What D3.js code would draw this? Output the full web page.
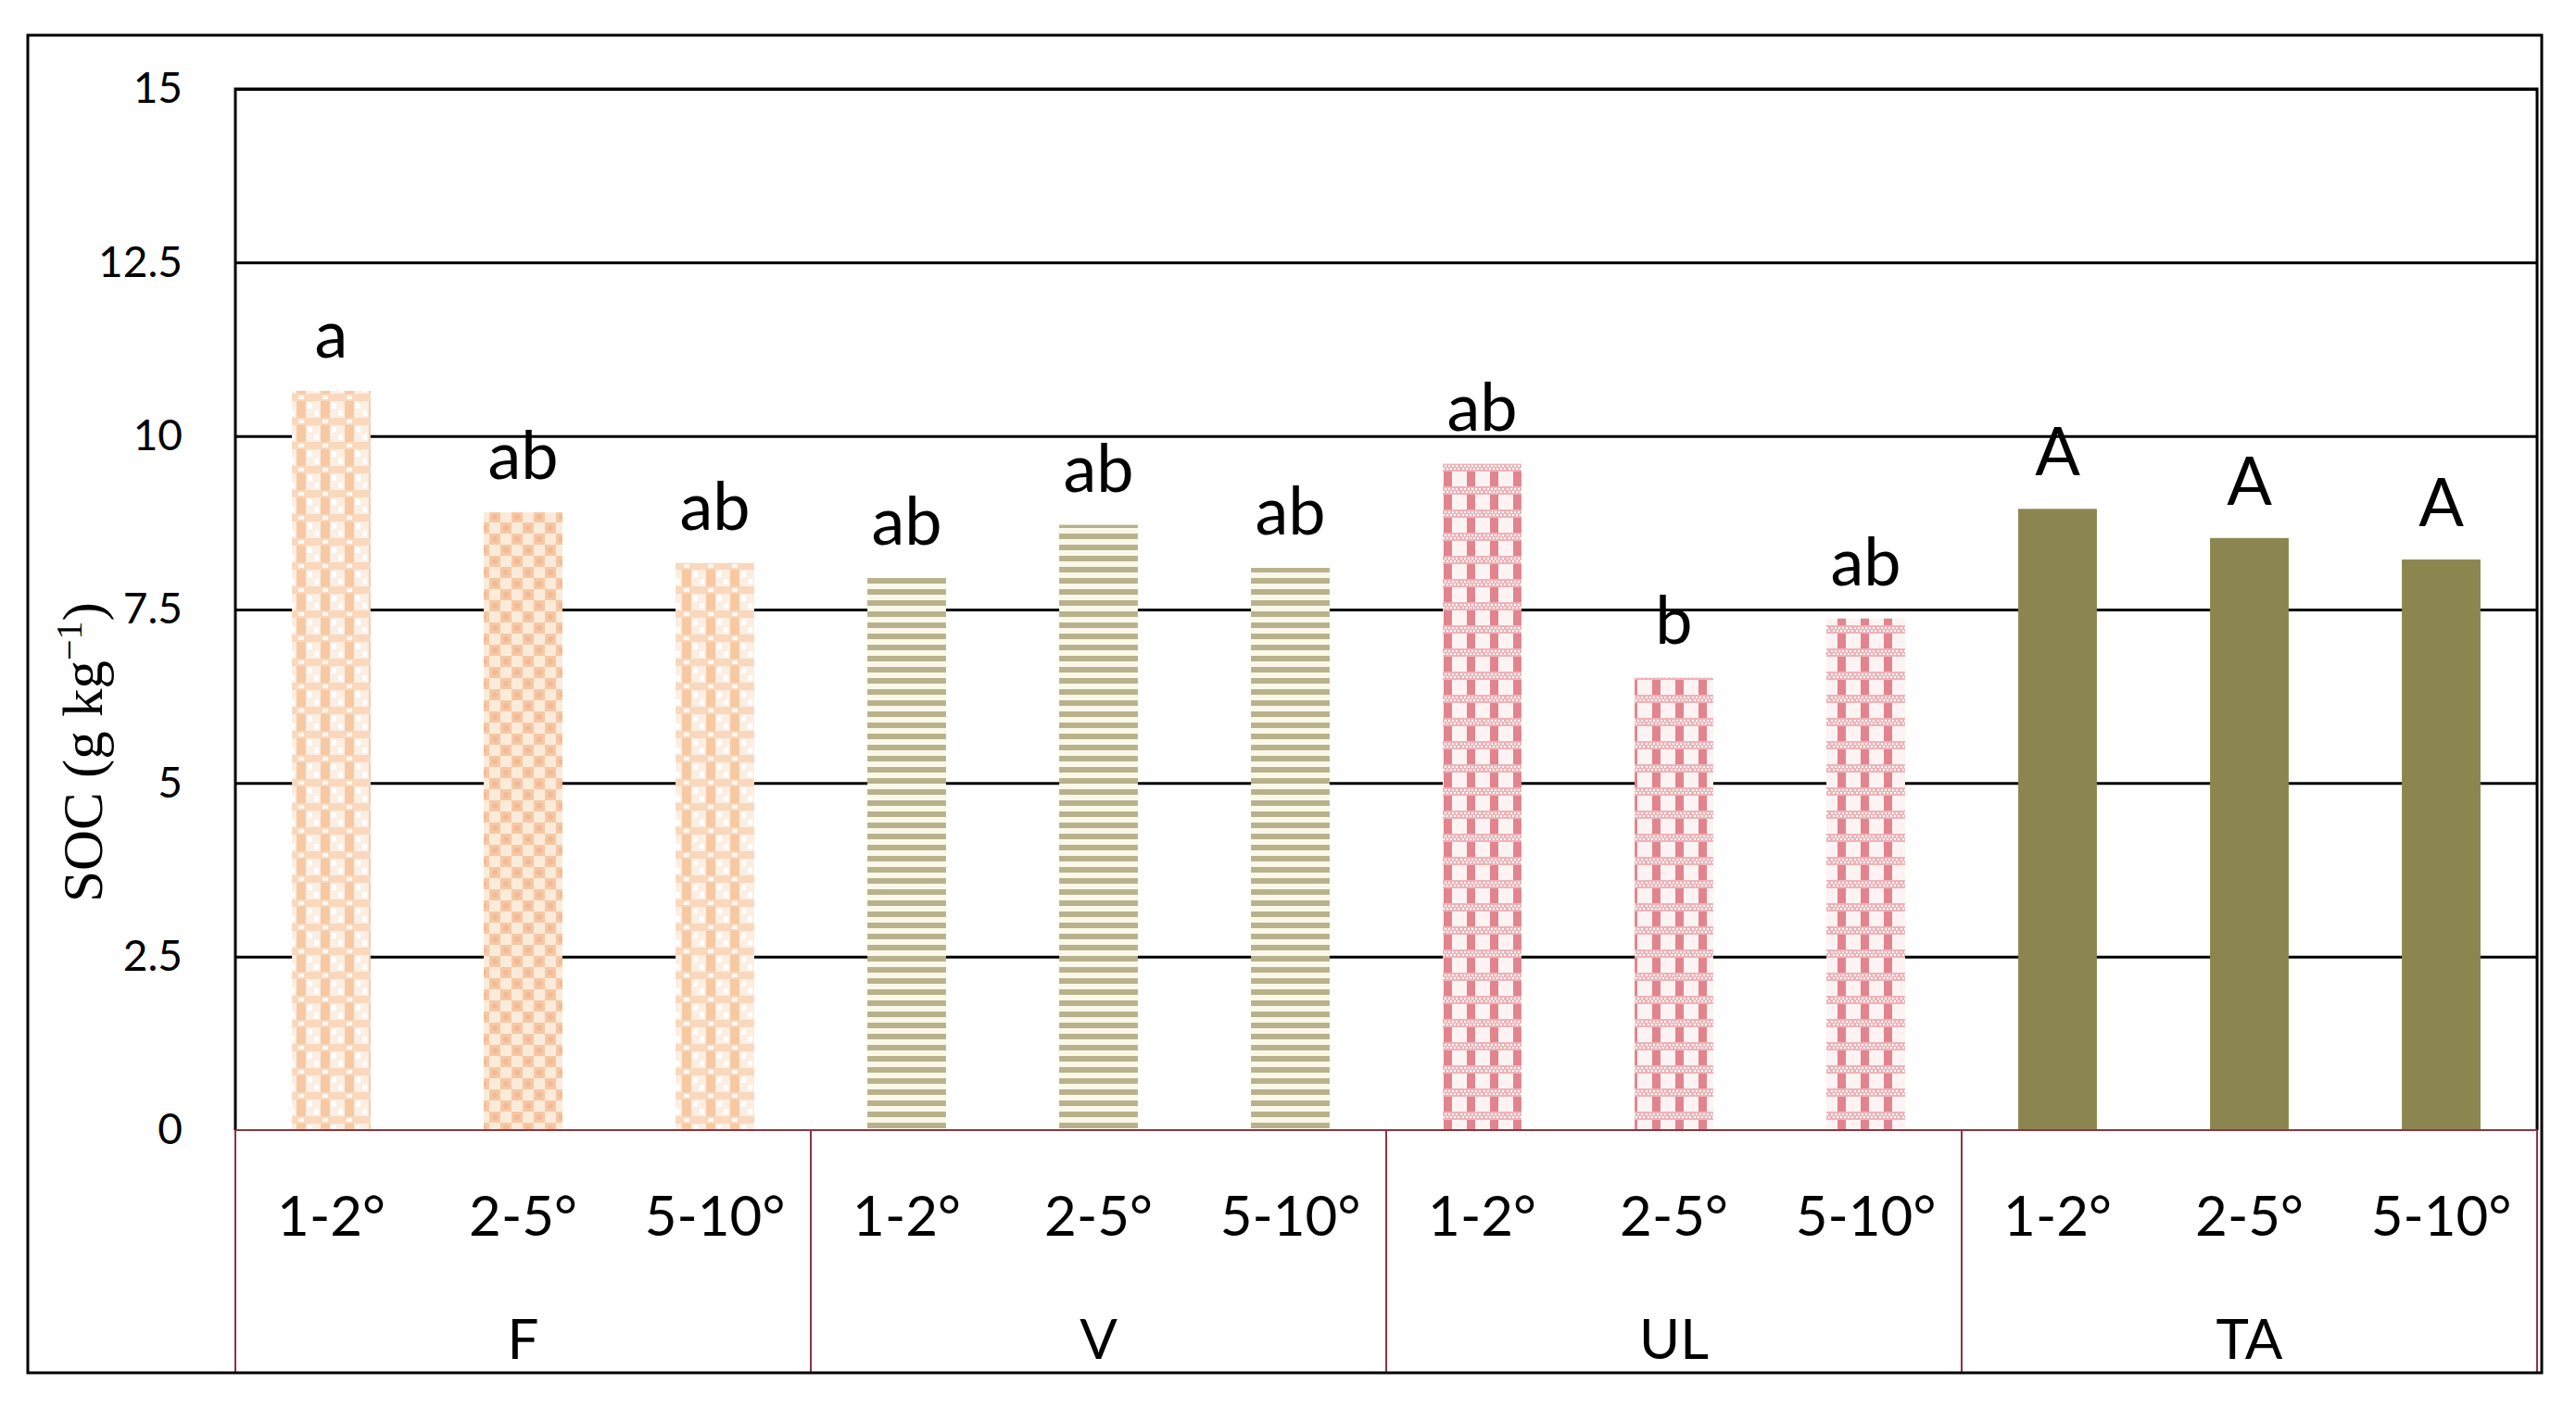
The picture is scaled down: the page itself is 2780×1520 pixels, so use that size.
<!DOCTYPE html>
<html>
<head>
<meta charset="utf-8">
<script src="https://cdn.jsdelivr.net/npm/d3@7"></script>
<style>
  html, body { margin: 0; padding: 0; background: #fff; }
  svg { display: block; }
</style>
</head>
<body>
<svg id="chart" width="2780" height="1520"></svg>
<script>
// ---- data ----
const groups = ["F", "V", "UL", "TA"];
const slopes = ["1-2°", "2-5°", "5-10°"];
const socF  = [10.65, 8.90, 8.17];
const socV  = [7.96, 8.72, 8.10];
const socUL = [9.60, 6.52, 7.37];
const socTA = [8.95, 8.53, 8.22];
const lettersF  = ["a", "ab", "ab"];
const lettersV  = ["ab", "ab", "ab"];
const lettersUL = ["ab", "b", "ab"];
const lettersTA = ["A", "A", "A"];
const yTicks = [0, 2.5, 5, 7.5, 10, 12.5, 15];

const seriesValues = [socF, socV, socUL, socTA];
const seriesLetters = [lettersF, lettersV, lettersUL, lettersTA];
const rows = [];
groups.forEach((g, gi) => slopes.forEach((s, si) => rows.push({
  group: g, slope: s, key: g + "|" + s,
  value: seriesValues[gi][si], letter: seriesLetters[gi][si], gi, si
})));

// ---- layout ----
const svg = d3.select("#chart");
const outer = {x0: 30, y0: 38, x1: 2743, y1: 1482};
const plot = {x0: 254, y0: 96, x1: 2738, y1: 1220};

const x = d3.scaleBand().domain(rows.map(d => d.key)).range([plot.x0, plot.x1]).paddingInner(0.59).paddingOuter(0.295);
const xg = d3.scaleBand().domain(groups).range([plot.x0, plot.x1]);
const y = d3.scaleLinear().domain([0, 15]).range([plot.y1, plot.y0]);

// ---- patterns ----
const defs = svg.append("defs");
// F pattern A: peach diamond columns
(function(){
  const p = defs.append("pattern").attr("id", "pF1").attr("patternUnits", "userSpaceOnUse")
    .attr("width", 26).attr("height", 26);
  p.append("rect").attr("width", 26).attr("height", 26).attr("fill", "#fdeee2");
  p.append("rect").attr("x", 8).attr("y", 0).attr("width", 10).attr("height", 26).attr("fill", "#f7c9a3");
  p.append("rect").attr("x", 0).attr("y", 9).attr("width", 26).attr("height", 8).attr("fill", "#f9d8bd");
  p.append("rect").attr("x", 10).attr("y", 11).attr("width", 6).attr("height", 4).attr("fill", "#fff8f0");
  p.append("rect").attr("x", 1).attr("y", 1).attr("width", 5).attr("height", 6).attr("fill", "#ffffff");
  p.append("rect").attr("x", 20).attr("y", 19).attr("width", 5).attr("height", 6).attr("fill", "#ffffff");
})();
// F pattern B: fine peach checker
(function(){
  const p = defs.append("pattern").attr("id", "pF2").attr("patternUnits", "userSpaceOnUse")
    .attr("width", 24).attr("height", 24);
  p.append("rect").attr("width", 24).attr("height", 24).attr("fill", "#fdebd9");
  p.append("rect").attr("x", 0).attr("y", 0).attr("width", 12).attr("height", 12).attr("fill", "#f6c8a5");
  p.append("rect").attr("x", 12).attr("y", 12).attr("width", 12).attr("height", 12).attr("fill", "#f6c8a5");
  p.append("circle").attr("cx", 6).attr("cy", 6).attr("r", 3).attr("fill", "#f2b994");
  p.append("circle").attr("cx", 18).attr("cy", 18).attr("r", 3).attr("fill", "#f2b994");
})();
// V pattern: horizontal stripes
(function(){
  const p = defs.append("pattern").attr("id", "pV").attr("patternUnits", "userSpaceOnUse")
    .attr("width", 12).attr("height", 12);
  p.append("rect").attr("width", 12).attr("height", 12).attr("fill", "#fbf8ea");
  p.append("rect").attr("x", 0).attr("y", 0).attr("width", 12).attr("height", 6).attr("fill", "#b8b28c");
})();
// UL pattern: pink plaid
(function(){
  const p = defs.append("pattern").attr("id", "pUL").attr("patternUnits", "userSpaceOnUse")
    .attr("width", 25).attr("height", 25);
  p.append("rect").attr("width", 25).attr("height", 25).attr("fill", "#fdf3f3");
  p.append("rect").attr("x", 8).attr("y", 0).attr("width", 9).attr("height", 25).attr("fill", "#e2848e");
  p.append("rect").attr("x", 0).attr("y", 0).attr("width", 25).attr("height", 9).attr("fill", "#eeb3b8");
  for (let i = 0; i < 6; i++) {
    p.append("rect").attr("x", i * 4 + 1).attr("y", 2).attr("width", 2).attr("height", 2).attr("fill", "#fff");
    p.append("rect").attr("x", i * 4 + 3).attr("y", 5).attr("width", 2).attr("height", 2).attr("fill", "#fff");
  }
})();
const fills = {
  "F|1-2°": "url(#pF1)", "F|2-5°": "url(#pF2)", "F|5-10°": "url(#pF1)",
  "V": "url(#pV)", "UL": "url(#pUL)", "TA": "#8b864f"
};
const fillFor = d => fills[d.key] || fills[d.group];

// ---- background ----
svg.append("rect").attr("x", 0).attr("y", 0).attr("width", 2780).attr("height", 1520).attr("fill", "#fff");

// ---- gridlines ----
const grid = svg.append("g").attr("transform", `translate(${plot.x0},0)`)
  .call(d3.axisLeft(y).tickValues(yTicks.filter(t => t > 0)).tickSize(-(plot.x1 - plot.x0)).tickFormat(""));
grid.select(".domain").remove();
grid.selectAll(".tick line").attr("stroke", "#000").attr("stroke-width", 3);

// ---- bars ----
svg.append("g").selectAll("rect.bar").data(rows).join("rect")
  .attr("class", "bar")
  .attr("x", d => x(d.key))
  .attr("width", x.bandwidth())
  .attr("y", d => y(d.value))
  .attr("height", d => y(0) - y(d.value))
  .attr("fill", fillFor);

// ---- plot frame (left, top, right) ----
svg.append("path")
  .attr("d", `M${plot.x0},${y(0)}V${y(15)}H${plot.x1}V${y(0)}`)
  .attr("fill", "none").attr("stroke", "#000").attr("stroke-width", 3);

// ---- zero line & group dividers ----
svg.append("line").attr("x1", plot.x0).attr("x2", plot.x1).attr("y1", y(0)).attr("y2", y(0))
  .attr("stroke", "#8e3341").attr("stroke-width", 2);
const dividerXs = groups.map(g => xg(g)).concat([plot.x1]);
svg.append("g").selectAll("line").data(dividerXs).join("line")
  .attr("x1", d => d).attr("x2", d => d)
  .attr("y1", y(0)).attr("y2", outer.y1)
  .attr("stroke", "#8e3341").attr("stroke-width", 2);

// ---- letters above bars ----
svg.append("g").selectAll("text").data(rows).join("text")
  .attr("x", d => x(d.key) + x.bandwidth() / 2)
  .attr("y", d => y(d.value) - 36)
  .attr("text-anchor", "middle")
  .attr("font-family", "Lato, 'Open Sans', sans-serif")
  .attr("font-size", 72)
  .attr("fill", "#000")
  .text(d => d.letter);

// ---- y axis labels ----
const yAxis = svg.append("g").attr("transform", `translate(${plot.x0},0)`)
  .call(d3.axisLeft(y).tickValues(yTicks).tickSize(0).tickPadding(57).tickFormat(d => String(d)));
yAxis.select(".domain").remove();
yAxis.selectAll("text").attr("font-family", "Lato, 'Open Sans', sans-serif").attr("font-size", 46).attr("fill", "#000");

// ---- x axis labels: slopes and groups ----
svg.append("g").selectAll("text").data(rows).join("text")
  .attr("x", d => x(d.key) + x.bandwidth() / 2)
  .attr("y", 1334)
  .attr("text-anchor", "middle")
  .attr("font-family", "Lato, 'Open Sans', sans-serif")
  .attr("font-size", 60)
  .attr("fill", "#000")
  .text(d => d.slope);
svg.append("g").selectAll("text").data(groups).join("text")
  .attr("x", d => xg(d) + xg.bandwidth() / 2)
  .attr("y", 1467)
  .attr("text-anchor", "middle")
  .attr("font-family", "Lato, 'Open Sans', sans-serif")
  .attr("font-size", 60)
  .attr("fill", "#000")
  .text(d => d);

// ---- y title ----
const title = svg.append("text")
  .attr("transform", `translate(110,812) rotate(-90)`)
  .attr("text-anchor", "middle")
  .attr("font-family", "'Liberation Serif', 'Times New Roman', serif")
  .attr("font-size", 61)
  .attr("fill", "#000");
title.append("tspan").text("SOC (g kg");
title.append("tspan").attr("font-size", 40).attr("dy", -22).text("−1");
title.append("tspan").attr("dy", 22).text(")");

// ---- outer frame ----
svg.append("rect").attr("x", outer.x0).attr("y", outer.y0)
  .attr("width", outer.x1 - outer.x0).attr("height", outer.y1 - outer.y0)
  .attr("fill", "none").attr("stroke", "#000").attr("stroke-width", 3);
</script>
</body>
</html>
